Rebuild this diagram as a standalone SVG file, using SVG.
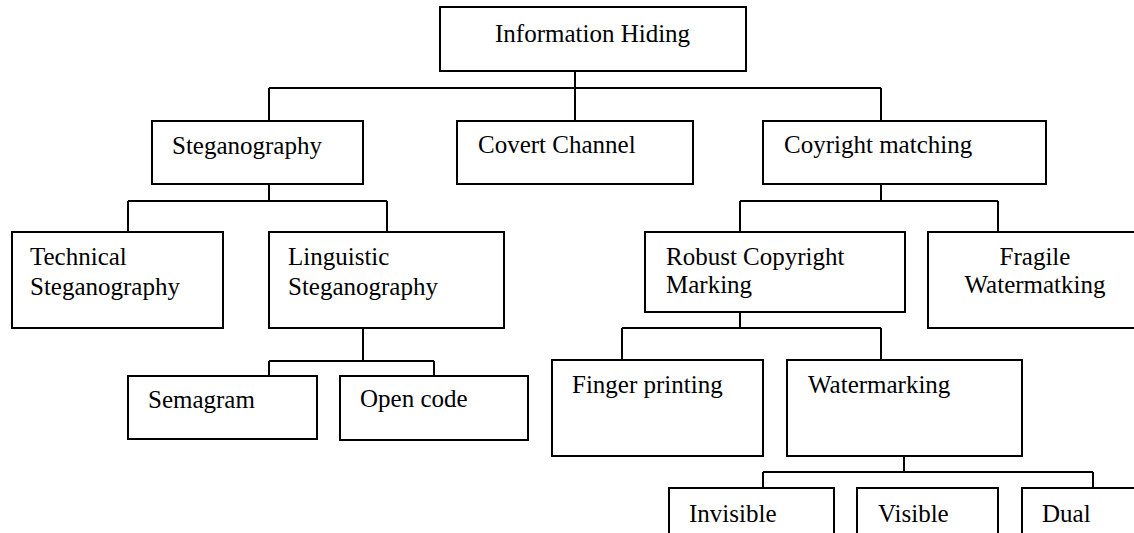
<svg xmlns="http://www.w3.org/2000/svg" width="1134" height="533" viewBox="0 0 1134 533">
  <style>
    .box { fill: #ffffff; stroke: #000000; stroke-width: 2; }
    .wire { fill: none; stroke: #000000; stroke-width: 2; }
    .label { font-family: "Liberation Serif", "Times New Roman", serif; font-size: 25px; fill: #000000; }
  </style>
  <rect width="1134" height="533" fill="#ffffff"/>

  <!-- tree connectors -->
  <g id="connectors">
    <path class="wire" d="M575 71 V88 M269 88 H881 M269 88 V121 M575 88 V121 M881 88 V121"/>
    <path class="wire" d="M269 184 V201 M128 201 H387 M128 201 V232 M387 201 V232"/>
    <path class="wire" d="M363 328 V361 M269 361 H434 M269 361 V376 M434 361 V376"/>
    <path class="wire" d="M881 184 V201 M740 201 H998 M740 201 V232 M998 201 V232"/>
    <path class="wire" d="M740 312 V328 M622 328 H881 M622 328 V360 M881 328 V360"/>
    <path class="wire" d="M904 456 V472 M763 472 H1093 M763 472 V488 M1093 472 V488"/>
  </g>

  <g id="information-hiding">
    <rect class="box" x="440" y="7" width="306" height="64"/>
    <text class="label" x="495" y="42">Information Hiding</text>
  </g>

  <g id="steganography">
    <rect class="box" x="152" y="121" width="211" height="63"/>
    <text class="label" x="172" y="154">Steganography</text>
  </g>

  <g id="covert-channel">
    <rect class="box" x="457" y="121" width="236" height="63"/>
    <text class="label" x="478" y="153">Covert Channel</text>
  </g>

  <g id="copyright-matching">
    <rect class="box" x="763" y="121" width="283" height="63"/>
    <text class="label" x="784" y="153">Coyright matching</text>
  </g>

  <g id="technical-steganography">
    <rect class="box" x="12" y="232" width="211" height="96"/>
    <text class="label" x="30" y="265">Technical</text>
    <text class="label" x="30" y="295">Steganography</text>
  </g>

  <g id="linguistic-steganography">
    <rect class="box" x="269" y="232" width="235" height="96"/>
    <text class="label" x="288" y="265">Linguistic</text>
    <text class="label" x="288" y="295">Steganography</text>
  </g>

  <g id="robust-copyright-marking">
    <rect class="box" x="645" y="232" width="260" height="80"/>
    <text class="label" x="666" y="265">Robust Copyright</text>
    <text class="label" x="666" y="293">Marking</text>
  </g>

  <g id="fragile-watermarking">
    <rect class="box" x="928" y="232" width="214" height="96"/>
    <text class="label" x="1035" y="265" text-anchor="middle">Fragile</text>
    <text class="label" x="1035" y="293" text-anchor="middle">Watermatking</text>
  </g>

  <g id="semagram">
    <rect class="box" x="128" y="376" width="189" height="63"/>
    <text class="label" x="148" y="408">Semagram</text>
  </g>

  <g id="open-code">
    <rect class="box" x="340" y="376" width="188" height="64"/>
    <text class="label" x="360" y="407">Open code</text>
  </g>

  <g id="finger-printing">
    <rect class="box" x="552" y="360" width="211" height="96"/>
    <text class="label" x="572" y="393">Finger printing</text>
  </g>

  <g id="watermarking">
    <rect class="box" x="787" y="360" width="235" height="96"/>
    <text class="label" x="808" y="393">Watermarking</text>
  </g>

  <g id="invisible">
    <rect class="box" x="669" y="488" width="165" height="60"/>
    <text class="label" x="689" y="522">Invisible</text>
  </g>

  <g id="visible">
    <rect class="box" x="857" y="488" width="141" height="60"/>
    <text class="label" x="878" y="522">Visible</text>
  </g>

  <g id="dual">
    <rect class="box" x="1022" y="488" width="130" height="60"/>
    <text class="label" x="1042" y="522">Dual</text>
  </g>
</svg>
